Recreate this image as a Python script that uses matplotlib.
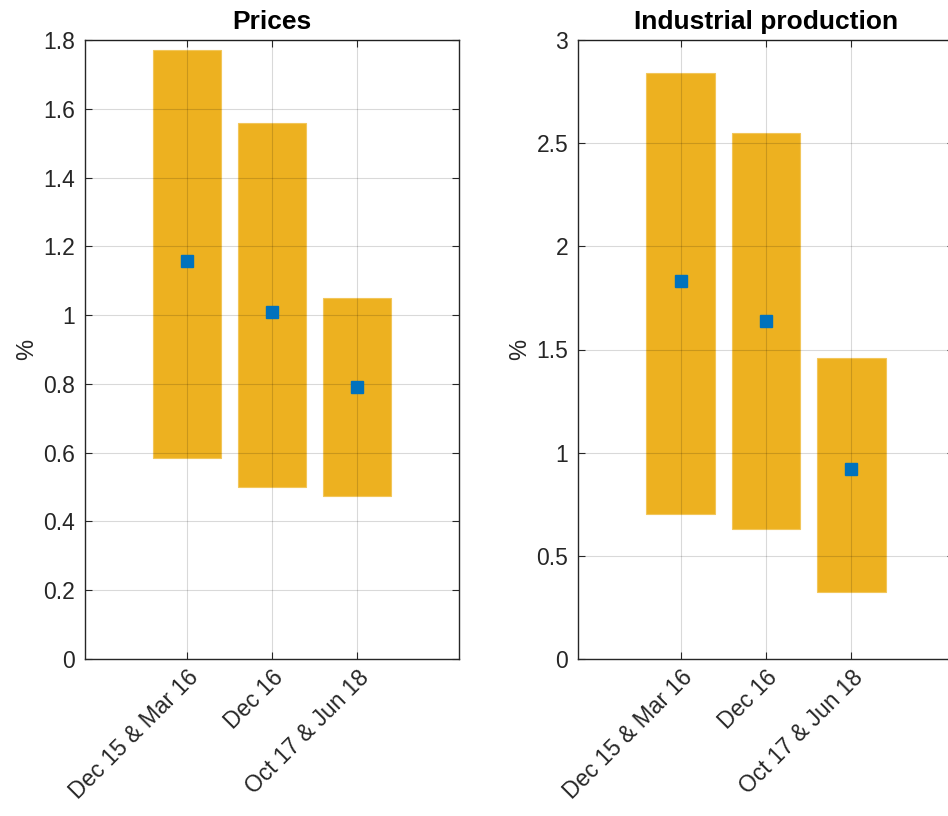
import matplotlib
matplotlib.use('Agg')
from matplotlib import pyplot as plt
from matplotlib.ticker import FuncFormatter

plt.rcParams['font.family'] = ['Liberation Sans', 'DejaVu Sans']

# periods shown on both panels
labels = ['Dec 15 & Mar 16', 'Dec 16', 'Oct 17 & Jun 18']
pos = [1, 2, 3]

# Prices: range bars and point estimate (%)
prices_low = [0.584, 0.500, 0.474]
prices_high = [1.771, 1.559, 1.050]
prices_mid = [1.157, 1.009, 0.791]

# Industrial production: range bars and point estimate (%)
ip_low = [0.703, 0.630, 0.325]
ip_high = [2.840, 2.550, 1.459]
ip_mid = [1.832, 1.638, 0.921]

bar_col = '#EDB120'
pt_col = '#0072BD'
ax_col = '#262626'

fig = plt.figure(figsize=(9.48, 8.16), dpi=100)
ax1 = fig.add_axes([85/948, 157/816, 374/948, 619/816])
ax2 = fig.add_axes([578/948, 157/816, 376/948, 619/816])


def panel(ax, low, high, mid, title, ymax, step):
    heights = [h - l for h, l in zip(high, low)]
    ax.bar(pos, heights, bottom=low, width=0.8, color=bar_col,
           edgecolor='#f2c65a', linewidth=0.8, zorder=1)
    ax.plot(pos, mid, linestyle='none', marker='s', markersize=9,
            color=pt_col, markeredgecolor=pt_col, zorder=3)
    ax.set_xlim(-0.2, 4.2)
    ax.set_ylim(0, ymax)
    ax.set_xticks(pos)
    ax.set_xticklabels(labels, rotation=45, ha='right', rotation_mode='anchor')
    ticks = [i * step for i in range(int(round(ymax / step)) + 1)]
    ax.set_yticks(ticks)
    ax.yaxis.set_major_formatter(FuncFormatter(lambda v, p: '%g' % round(v, 2)))
    ax.set_axisbelow(False)
    ax.grid(True, color='#000000', alpha=0.15, linewidth=0.8, zorder=2.5)
    ax.tick_params(direction='in', top=True, right=True, length=5,
                   width=0.8, colors=ax_col, labelsize=16.5, pad=7)
    ax.tick_params(axis='x', pad=5)
    for s in ax.spines.values():
        s.set_color(ax_col)
        s.set_linewidth(1.0)
    ax.set_title(title, fontsize=19, fontweight='bold', pad=8)
    ax.set_ylabel('%', fontsize=17, color=ax_col, labelpad=4)


panel(ax1, prices_low, prices_high, prices_mid, 'Prices', 1.8, 0.2)
panel(ax2, ip_low, ip_high, ip_mid, 'Industrial production', 3.0, 0.5)

fig.savefig('out.png', dpi=100)
